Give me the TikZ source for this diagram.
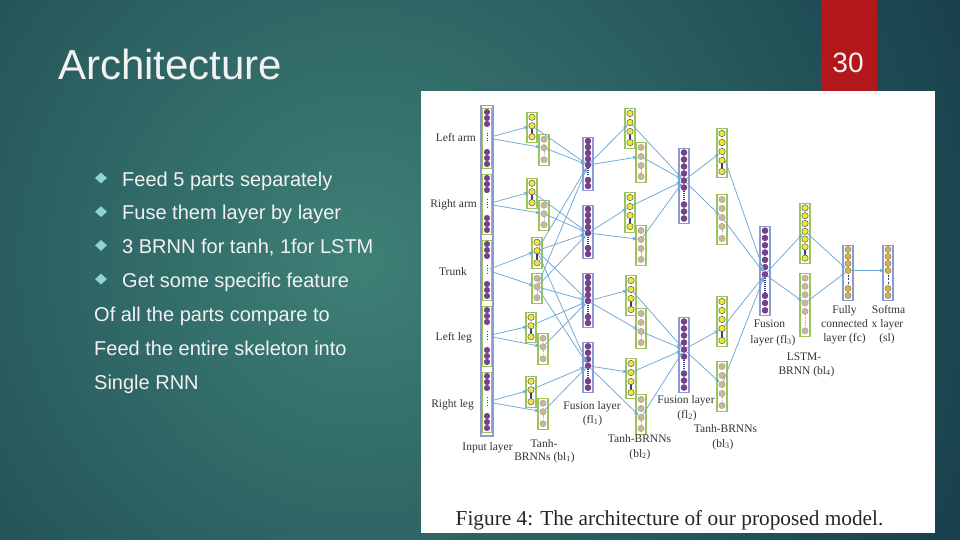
\documentclass[tikz,border=0pt]{standalone}
\usepackage{fontspec}
\setmainfont{Liberation Sans}
\newfontfamily\figfont{Liberation Serif}
\usetikzlibrary{arrows.meta,shapes.geometric}

\definecolor{bgdark}{HTML}{163C4A}
\definecolor{bglight}{HTML}{3E8076}
\definecolor{slidered}{HTML}{B2181B}
\definecolor{bulletcyan}{HTML}{8ED3D6}
\definecolor{boxgreen}{HTML}{9CC45A}
\definecolor{boxblue}{HTML}{8E9BD2}
\definecolor{markblue}{HTML}{2C3E8C}
\definecolor{dotpurple}{HTML}{7A3F8E}
\definecolor{dotyellow}{HTML}{ECE83A}
\definecolor{dottan}{HTML}{C9B79C}
\definecolor{dotgold}{HTML}{D6B245}
\definecolor{arrowblue}{HTML}{6EA8D8}
\definecolor{labelgray}{HTML}{333333}

\tikzset{
  inpart box/.style={draw=boxgreen, line width=.9pt, fill=white, minimum width=8.5pt, inner sep=0pt},
  inpart dot/.style={circle, fill=dotpurple, draw=dotpurple!70!black, line width=.3pt, minimum size=5.6pt, inner sep=0pt},
  inpart gap/.style={draw=markblue, line width=1pt, dash pattern=on 1pt off 1.5pt, shorten <=9pt, shorten >=9pt},
  fwd box/.style={draw=boxgreen, line width=1.2pt, fill=white, minimum width=10pt, inner sep=0pt},
  fwd dot/.style={circle, fill=dotyellow, draw=black!65, line width=.5pt, minimum size=6.4pt, inner sep=0pt},
  fwd gap/.style={draw=markblue, line width=1.3pt},
  bwd box/.style={draw=boxgreen, line width=1.2pt, fill=white, minimum width=10pt, inner sep=0pt},
  bwd dot/.style={circle, fill=dottan, draw=dottan!80!black, line width=.3pt, minimum size=6.4pt, inner sep=0pt},
  bwd gap/.style={draw=boxblue!80, line width=.8pt, dash pattern=on 1.5pt off 1pt, shorten <=3.5pt, shorten >=3.5pt},
  fuse box/.style={draw=boxblue, line width=1.2pt, fill=white, minimum width=10pt, inner sep=0pt},
  fuse dot/.style={circle, fill=dotpurple, draw=dotpurple!70!black, line width=.3pt, minimum size=6pt, inner sep=0pt},
  fuse gap/.style={draw=markblue, line width=1.1pt, dash pattern=on 1pt off 1pt, shorten <=3.5pt, shorten >=3.5pt},
  outl box/.style={draw=boxblue, line width=1.2pt, fill=white, minimum width=10pt, inner sep=0pt},
  outl dot/.style={circle, fill=dotgold, draw=black!55, line width=.4pt, minimum size=6.2pt, inner sep=0pt},
  outl gap/.style={draw=markblue, line width=1pt, dash pattern=on 2pt off 1.5pt, shorten <=4pt, shorten >=4pt},
  input box/.style={draw=boxblue, line width=1.5pt, fill=white, minimum width=12pt, inner sep=0pt},
  conn/.style={draw=arrowblue, line width=.75pt, -{Stealth[length=5pt, width=3.6pt]}},
  bullet/.style={diamond, fill=bulletcyan, minimum width=12pt, minimum height=11pt, inner sep=0pt},
  slidetext/.style={text=white!95!black, font=\fontsize{20}{24}\selectfont, inner sep=0pt, anchor=base west},
  figlabel/.style={text=labelgray, font=\figfont\fontsize{11.5}{13}\selectfont, inner sep=0pt, anchor=base}
}

% #1 name, #2 x, #3 top, #4 bottom, #5 dots above the break, #6 dots below, #7 pitch, #8 kind
\newcommand{\layercol}[8]{%
  \node[#8 box, minimum height={#4-#3}, anchor=north] (#1) at (#2,#3) {};
  \pgfmathsetmacro{\ya}{#3+1+(#5-0.5)*#7}
  \pgfmathsetmacro{\yb}{#4-1-(#6-0.5)*#7}
  \draw[#8 gap] (#2,\ya) -- (#2,\yb);
  \node[inner sep=0pt, minimum width=9pt, minimum height=2pt] (#1-g) at (#2,{(\ya+\yb)/2}) {};
  \foreach \i in {1,...,#5}
    \node[#8 dot] (#1-\i) at (#2,{#3+1+(\i-0.5)*#7}) {};
  \foreach \j in {1,...,#6} {
    \pgfmathtruncatemacro{\k}{#5+\j}
    \node[#8 dot] (#1-\k) at (#2,{#4-1-(#6-\j+0.5)*#7}) {};
  }
}

\begin{document}
\begin{tikzpicture}[x=1pt, y=-1pt]
\useasboundingbox (0,0) rectangle (960,540);
\fill[bgdark] (0,0) rectangle (960,540);
\begin{scope}
  \clip (0,0) rectangle (960,540);
  \shade[inner color=bglight, outer color=bgdark] (360,260) circle (700pt);
\end{scope}

\fill[slidered] (821,0) rectangle (877,91);
\node[anchor=base, inner sep=0pt, text=white!95!black, font=\fontsize{28}{32}\selectfont] (pagenum) at (848,73) {30};
\fill[white] (421,91) rectangle (935,533);

\node[anchor=base west, inner sep=0pt, text=white!95!black, font=\fontsize{42}{48}\selectfont] (title) at (58,80) {Architecture};
\foreach \t [count=\k] in {Feed 5 parts separately, Fuse them layer by layer, {3 BRNN for tanh, 1for LSTM}, Get some specific feature} {
  \node[bullet] (mark\k) at (101,{178+(\k-1)*33.7}) {};
  \node[slidetext] (item\k) at (122,{186+(\k-1)*33.7}) {\t};
}
\node[slidetext] (line1) at (94,321) {Of all the parts compare to};
\node[slidetext] (line2) at (94,355) {Feed the entire skeleton into};
\node[slidetext] (line3) at (94,389) {Single RNN};

% input layer
\node[input box, minimum height=330pt, anchor=north] (input) at (487,105) {};
\layercol{inla}{487}{108}{168}{3}{3}{6}{inpart}
\layercol{inra}{487}{174}{234}{3}{3}{6}{inpart}
\layercol{intr}{487}{240}{300}{3}{3}{6}{inpart}
\layercol{inll}{487}{306}{366}{3}{3}{6}{inpart}
\layercol{inrl}{487}{372}{432}{3}{3}{6}{inpart}

% bl1
\layercol{f1la}{532}{112}{142}{2}{1}{8.5}{fwd}
\layercol{b1la}{544}{134}{165}{2}{1}{8.5}{bwd}
\layercol{f1ra}{532}{178}{208}{2}{1}{8.5}{fwd}
\layercol{b1ra}{544}{200}{230}{2}{1}{8.5}{bwd}
\layercol{f1tr}{537}{237}{268}{2}{1}{8.5}{fwd}
\layercol{b1tr}{537}{273}{303}{2}{1}{8.5}{bwd}
\layercol{f1ll}{531}{312}{342}{2}{1}{8.5}{fwd}
\layercol{b1ll}{543}{333}{364}{2}{1}{8.5}{bwd}
\layercol{f1rl}{531}{376}{407}{2}{1}{8.5}{fwd}
\layercol{b1rl}{543}{398}{429}{2}{1}{8.5}{bwd}

% fl1
\layercol{fus1a}{588}{137}{190}{5}{2}{6}{fuse}
\layercol{fus1b}{588}{205}{258}{5}{2}{6}{fuse}
\layercol{fus1c}{588}{273}{327}{5}{2}{6}{fuse}
\layercol{fus1d}{588}{342}{392}{4}{2}{6.5}{fuse}

% bl2
\layercol{f2a}{630}{108}{148}{3}{1}{9}{fwd}
\layercol{b2a}{641}{142}{182}{3}{1}{9}{bwd}
\layercol{f2b}{630}{192}{232}{3}{1}{9}{fwd}
\layercol{b2b}{641}{225}{265}{3}{1}{9}{bwd}
\layercol{f2c}{631}{275}{315}{3}{1}{9}{fwd}
\layercol{b2c}{641}{308}{348}{3}{1}{9}{bwd}
\layercol{f2d}{631}{358}{398}{3}{1}{9}{fwd}
\layercol{b2d}{641}{394}{434}{3}{1}{9}{bwd}

% fl2 and bl3
\layercol{fus2a}{684}{148}{223}{6}{3}{7}{fuse}
\layercol{fus2b}{684}{317}{392}{6}{3}{7}{fuse}
\layercol{f3a}{722}{128}{177}{4}{1}{9}{fwd}
\layercol{b3a}{722}{194}{244}{4}{1}{9}{bwd}
\layercol{f3b}{722}{296}{346}{4}{1}{9}{fwd}
\layercol{b3b}{722}{361}{411}{4}{1}{9}{bwd}

% fl3, bl4, fc, sl
\layercol{fus3}{765}{226}{315}{7}{3}{7.3}{fuse}
\layercol{f4}{805}{203}{263}{6}{1}{7.8}{fwd}
\layercol{b4}{805}{273}{336}{5}{1}{8.3}{bwd}
\layercol{fc}{848}{245}{300}{4}{2}{7}{outl}
\layercol{sl}{888}{245}{300}{4}{2}{7}{outl}

\foreach \a/\b in {inla-g/f1la-2, inla-g/b1la-2, inra-g/f1ra-2, inra-g/b1ra-2, intr-g/f1tr-2, intr-g/b1tr-2, inll-g/f1ll-2, inll-g/b1ll-2, inrl-g/f1rl-2, inrl-g/b1rl-2,
    f1la-2/fus1a-5, b1la-2/fus1a-5, f1ra-2/fus1b-5, b1ra-2/fus1b-5, f1tr-2/fus1a-5, b1tr-2/fus1a-5, f1tr-2/fus1b-5, b1tr-2/fus1b-5,
    f1tr-2/fus1c-5, b1tr-2/fus1c-5, f1tr-2/fus1d-4, b1tr-2/fus1d-4, f1ll-2/fus1c-5, b1ll-2/fus1c-5, f1rl-2/fus1d-4, b1rl-2/fus1d-4,
    fus1a-5/f2a-2, fus1a-5/b2a-2, fus1b-5/f2b-2, fus1b-5/b2b-2, fus1c-5/f2c-2, fus1c-5/b2c-3, fus1d-4/f2d-2, fus1d-4/b2d-3,
    f2a-2/fus2a-5, b2a-2/fus2a-5, f2b-2/fus2a-5, b2b-2/fus2a-5, f2c-2/fus2b-5, b2c-3/fus2b-5, f2d-2/fus2b-5, b2d-3/fus2b-5,
    fus2a-5/f3a-3, fus2a-5/b3a-3, fus2b-5/f3b-4, fus2b-5/b3b-3,
    f3a-3/fus3-7, b3a-3/fus3-7, f3b-4/fus3-7, b3b-3/fus3-7,
    fus3-7/f4-4, fus3-7/b4-4, f4-4/fc-4, b4-4/fc-4, fc-4/sl-4}
  \draw[conn] (\a) -- (\b);

\node[figlabel, anchor=base east] (lla) at (476,142) {Left arm};
\node[figlabel, anchor=base east] (lra) at (477,207) {Right arm};
\node[figlabel, anchor=base east] (ltr) at (467,275) {Trunk};
\node[figlabel, anchor=base east] (lll) at (472,340) {Left leg};
\node[figlabel, anchor=base east] (lrl) at (474,407) {Right leg};
\node[figlabel] (lin) at (487.5,450) {Input layer};
\node[figlabel] (lbl1a) at (544,447) {Tanh-};
\node[figlabel] (lbl1b) at (544.5,460) {BRNNs (bl\textsubscript{1})};
\node[figlabel] (lfl1a) at (592,409) {Fusion layer};
\node[figlabel] (lfl1b) at (592.5,423) {(fl\textsubscript{1})};
\node[figlabel] (lbl2a) at (639.5,442) {Tanh-BRNNs};
\node[figlabel] (lbl2b) at (640,457) {(bl\textsubscript{2})};
\node[figlabel] (lfl2a) at (686,403) {Fusion layer};
\node[figlabel] (lfl2b) at (687,418) {(fl\textsubscript{2})};
\node[figlabel] (lbl3a) at (725.5,432) {Tanh-BRNNs};
\node[figlabel] (lbl3b) at (723,447) {(bl\textsubscript{3})};
\node[figlabel] (lfl3a) at (769.5,327) {Fusion};
\node[figlabel] (lfl3b) at (773,343) {layer (fl\textsubscript{3})};
\node[figlabel] (lbl4a) at (804,360) {LSTM-};
\node[figlabel] (lbl4b) at (806.5,374) {BRNN (bl\textsubscript{4})};
\node[figlabel] (lfca) at (844.5,313) {Fully};
\node[figlabel] (lfcb) at (844.5,327) {connected};
\node[figlabel] (lfcc) at (844.5,341) {layer (fc)};
\node[figlabel] (lsla) at (888.5,313) {Softma};
\node[figlabel] (lslb) at (887.5,327) {x layer};
\node[figlabel] (lslc) at (887,341) {(sl)};
\node[anchor=base, inner sep=0pt, text=black!85, font=\figfont\fontsize{21.3}{25}\selectfont] (caption) at (669.5,525) {Figure 4: The architecture of our proposed model.};
\end{tikzpicture}
\end{document}
